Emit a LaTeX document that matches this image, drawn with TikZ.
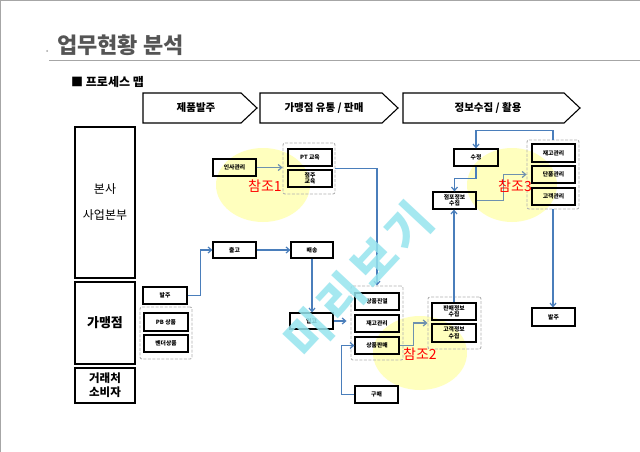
\documentclass[tikz,border=0pt]{standalone}
\usepackage{fontspec}
\newfontfamily\kr{Noto Sans CJK KR}
\newfontfamily\krwide[LetterSpace=12]{Noto Sans CJK KR}
\usetikzlibrary{arrows.meta}
\definecolor{conn}{RGB}{74,126,187}
\definecolor{refconn}{RGB}{110,145,175}
\definecolor{ylw}{RGB}{255,255,190}
\definecolor{wm}{RGB}{150,228,238}
\definecolor{titlegray}{RGB}{85,85,85}
\begin{document}
\begin{tikzpicture}[x=1pt,y=-1pt,
  bx/.style={draw, line width=1.1pt, inner sep=0pt, align=center,
    font=\kr\bfseries\fontsize{5.8}{6.5}\selectfont},
  grp/.style={draw=gray!60, dash pattern=on 3pt off 1.5pt, line width=0.9pt, rounded corners=2pt, inner sep=0pt},
  side/.style={draw, line width=1.2pt, inner sep=0pt, align=center, minimum width=60},
  cn/.style={draw=conn, line width=1.2pt, -{Straight Barb[length=3.5pt,width=6pt]}},
  rc/.style={draw=refconn, line width=1.2pt, -{Straight Barb[length=3.5pt,width=6pt]}},
  chev/.style={draw, line width=1.1pt, fill=white},
  chevtext/.style={font=\kr\bfseries\fontsize{10.5}{12}\selectfont},
  refbl/.style={fill=ylw},
  reft/.style={text=red, font=\kr\fontsize{14}{15}\selectfont, inner sep=0pt}
]
\useasboundingbox (0,0) rectangle (640,452);
\fill[white] (0,0) rectangle (640,452);
\draw[gray!70, line width=1pt] (0.5,452) -- (0.5,0.5) -- (640,0.5);

% title
\node[anchor=west, text=titlegray, font=\kr\bfseries\fontsize{22}{24}\selectfont, inner sep=0pt] (title) at (57,45) {업무현황 분석};
\fill[gray!70] (47,51) circle (1pt);
\draw[gray!70, line width=1pt] (49,61) -- (640,61);
\node[anchor=west, font=\kr\bfseries\fontsize{12}{13}\selectfont, inner sep=0pt] (sub) at (71,82) {■ 프로세스 맵};

% chevrons
\draw[chev] (143,93) -- (241,93) -- (257,108) -- (241,123) -- (143,123) -- cycle;
\draw[chev] (260,93) -- (382,93) -- (398,108) -- (382,123) -- (260,123) -- cycle;
\draw[chev] (403,93) -- (564,93) -- (580,108) -- (564,123) -- (403,123) -- cycle;
\node[chevtext] (c1) at (196,108) {제품발주};
\node[chevtext] (c2) at (324,108) {가맹점 유통 / 판매};
\node[chevtext] (c3) at (488,108) {정보수집 / 활용};

% side column
\node[side, minimum height=151, font=\kr\fontsize{12}{13}\selectfont] (hq) at (105,202.5) {본사\\[13pt]사업본부};
\node[side, minimum height=82, font=\kr\bfseries\fontsize{13}{14}\selectfont] (fr) at (105,323) {가맹점};
\node[side, minimum height=35, font=\kr\bfseries\fontsize{11.5}{14}\selectfont] (cu) at (105,385.5) {거래처\\소비자};

% yellow reference ellipses
\fill[refbl] (263,185) ellipse (47 and 37);
\fill[refbl] (420,353) ellipse (47 and 37);
\fill[refbl] (512,185) ellipse (45 and 37);

% groups
\node[grp, minimum width=52, minimum height=51] (g1) at (309,168.5) {};
\node[grp, minimum width=52, minimum height=52] (gpb) at (166,333) {};
\node[grp, minimum width=52, minimum height=74] (g2) at (377,323) {};
\node[grp, minimum width=53, minimum height=52] (g3) at (454.5,323) {};
\node[grp, minimum width=52, minimum height=69] (g4) at (553,174.5) {};

% boxes
\node[bx, minimum width=43, minimum height=17] (insa) at (234.5,167.5) {인사관리};
\node[bx, minimum width=44, minimum height=17] (pt) at (310,157.5) {PT 교육};
\node[bx, minimum width=44, minimum height=17] (jj) at (310,178.5) {점주\\교육};
\node[bx, minimum width=43, minimum height=16] (chul) at (234.5,250) {출고};
\node[bx, minimum width=42, minimum height=16] (bae) at (312,250) {배송};
\node[bx, minimum width=44, minimum height=17] (bal1) at (165,295.5) {발주};
\node[bx, minimum width=44, minimum height=18] (pb) at (166,322) {PB 상품};
\node[bx, minimum width=44, minimum height=17] (vd) at (166,343.5) {벤더상품};
\node[bx, minimum width=43, minimum height=16] (ip) at (311.5,321) {입고};
\node[bx, minimum width=44, minimum height=17] (jy) at (377,301.5) {상품진열};
\node[bx, minimum width=44, minimum height=17] (jg) at (377,323.5) {재고관리};
\node[bx, minimum width=44, minimum height=17] (sp) at (377,345.5) {상품판매};
\node[bx, minimum width=43, minimum height=17] (gm) at (376.5,394.5) {구매};
\node[bx, minimum width=44, minimum height=17] (pi) at (454,311.5) {판매정보\\수집};
\node[bx, minimum width=44, minimum height=18] (ci) at (454,333) {고객정보\\수집};
\node[bx, minimum width=43, minimum height=17] (jp) at (454.5,200.5) {점포정보\\수집};
\node[bx, minimum width=44, minimum height=17] (sj) at (476,157.5) {수정};
\node[bx, minimum width=43, minimum height=18] (jg2) at (553.5,153) {재고관리};
\node[bx, minimum width=43, minimum height=17] (dp) at (553.5,174.5) {단품관리};
\node[bx, minimum width=43, minimum height=17] (gk) at (553.5,196.5) {고객관리};
\node[bx, minimum width=43, minimum height=18] (bal2) at (553.5,317) {발주};

% connectors
\draw[rc] (insa.east) -- (insa.east -| g1.west);
\draw[cn] (bal1.east) -- ++(13,0) |- (chul.west);
\draw[cn] (chul) -- (bae);
\draw[cn] (bae.south) -- (bae.south |- ip.north);
\draw[cn] (ip.east) -- ++(13,0);
\draw[cn] (g1.east) -| (g2.north);
\draw[cn] (gm.west) -- ++(-13,0) |- (sp.west);
\draw[rc] (sp.east) -- ++(14,0) |- (g3.west);
\draw[cn] (pi.north) -- (pi.north |- jp.south);
\draw[cn] (sj.south) -- ++(0,12) -| (jp.north);
\draw[rc] (jp.east) -- ++(27,0) |- (g4.west |- dp);
\draw[cn] (g4.north) -- ++(0,-9) -| (sj.north);
\draw[cn] (g4.south) -- (g4.south |- bal2.north);

% reference labels
\node[reft] (r1) at (265,186) {참조1};
\node[reft] (r2) at (420,354) {참조2};
\node[reft] (r3) at (515,186) {참조3};

% watermark
\node[text=wm, opacity=0.85, rotate=47, font=\krwide\bfseries\fontsize{47}{47}\selectfont, inner sep=0pt] (wmk) at (358,280) {미리보기};
\end{tikzpicture}
\end{document}
